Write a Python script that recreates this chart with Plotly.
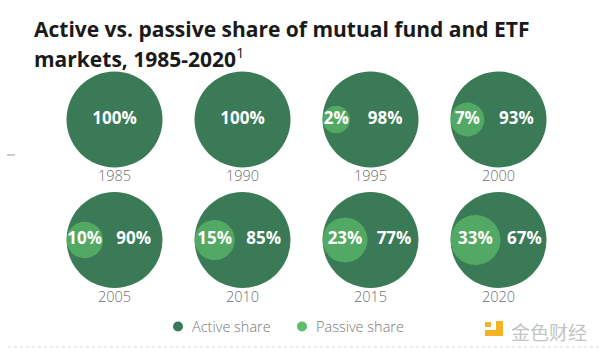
import plotly.graph_objects as go
import numpy as np

# ---- data ----
years = ["1985", "1990", "1995", "2000", "2005", "2010", "2015", "2020"]
active = [100, 100, 98, 93, 90, 85, 77, 67]
passive = [0, 0, 2, 7, 10, 15, 23, 33]
legend_labels = ["Active share", "Passive share"]
title_line1 = "Active vs. passive share of mutual fund and ETF"
title_line2 = "markets, 1985-2020"
title_note = "1"
watermark = "金色财经"

# ---- style ----
DARK = "#3a7a56"
LIGHT = "#5cbd6a"
W, H = 600, 354
COL_X0, COL_DX = 114.5, 128
ROW_Y = [119.5, 240]
R = 48
FONT = "Open Sans"

n = len(years)
cx = [COL_X0 + COL_DX * (i % 4) for i in range(n)]
cy = [ROW_Y[i // 4] for i in range(n)]
r_in = [10 + 2.61 * np.sqrt(p) if p > 0 else 0 for p in passive]
ix = [x - R + r for x, r in zip(cx, r_in)]

fig = go.Figure()

# outer (active) circles
fig.add_trace(go.Scatter(
    x=cx, y=cy, mode="markers",
    marker=dict(size=2 * R, color=DARK, line=dict(width=0)),
    hoverinfo="skip", showlegend=False, cliponaxis=False))

# inner (passive) circles
pi = [i for i in range(n) if passive[i] > 0]
fig.add_trace(go.Scatter(
    x=[ix[i] for i in pi], y=[cy[i] for i in pi], mode="markers",
    marker=dict(size=[2 * r_in[i] for i in pi], color=LIGHT, line=dict(width=0)),
    hoverinfo="skip", showlegend=False, cliponaxis=False))

# active labels: centred in the space right of the passive circle
ax = [cx[i] if passive[i] == 0 else (ix[i] + r_in[i] + cx[i] + R) / 2 + 1 for i in range(n)]
fig.add_trace(go.Scatter(
    x=ax, y=cy, mode="text", text=[f"{a}%" for a in active],
    textposition="middle center",
    textfont=dict(family=FONT, size=17, color="white", weight="bold"),
    hoverinfo="skip", showlegend=False, cliponaxis=False))

# passive labels
fig.add_trace(go.Scatter(
    x=[ix[i] for i in pi], y=[cy[i] for i in pi], mode="text",
    text=[f"{passive[i]}%" for i in pi], textposition="middle center",
    textfont=dict(family=FONT, size=17, color="white", weight="bold"),
    hoverinfo="skip", showlegend=False, cliponaxis=False))

# year labels
fig.add_trace(go.Scatter(
    x=cx, y=[y + 58 for y in cy], mode="text", text=years,
    textposition="middle center",
    textfont=dict(family=FONT, size=14.5, color="#6f6f6f", weight=300),
    hoverinfo="skip", showlegend=False, cliponaxis=False))

# legend (manual)
leg_x = [178, 302]
leg_y = 326.5
fig.add_trace(go.Scatter(
    x=leg_x, y=[leg_y, leg_y], mode="markers",
    marker=dict(size=10, color=[DARK, LIGHT], line=dict(width=0)),
    hoverinfo="skip", showlegend=False, cliponaxis=False))
for lx, lab in zip(leg_x, legend_labels):
    fig.add_annotation(x=lx + 12, y=leg_y, xref="x", yref="y", text=lab,
                       showarrow=False, xanchor="left", yanchor="middle",
                       font=dict(family=FONT, size=14.5, color="#777777", weight=300))

# title
fig.add_annotation(x=32, y=28.5, xref="x", yref="y", text=f"<b>{title_line1}</b>",
                   showarrow=False, xanchor="left", yanchor="middle",
                   font=dict(family=FONT, size=21, color="#1a1a1a"))
fig.add_annotation(x=32, y=57, xref="x", yref="y",
                   text=f"<b>{title_line2}</b><sup>{title_note}</sup>",
                   showarrow=False, xanchor="left", yanchor="middle",
                   font=dict(family=FONT, size=21, color="#1a1a1a"))

# watermark
fig.add_annotation(x=509, y=331, xref="x", yref="y", text=watermark,
                   showarrow=False, xanchor="left", yanchor="middle",
                   font=dict(family="Noto Sans CJK SC", size=19, color="#c4c4c4"))
fig.add_shape(type="rect", x0=496, x1=503, y0=321, y1=336, xref="x", yref="y",
              fillcolor="#f5b324", line=dict(width=0))
fig.add_shape(type="rect", x0=485, x1=503, y0=330, y1=336, xref="x", yref="y",
              fillcolor="#f5b324", line=dict(width=0))
fig.add_shape(type="rect", x0=485, x1=491, y0=322, y1=327, xref="x", yref="y",
              fillcolor="#f5b324", line=dict(width=0))

# dotted bottom line and small dash
fig.add_shape(type="line", x0=8, x1=600, y0=347, y1=347, xref="x", yref="y",
              line=dict(color="#d8d8d8", width=1, dash="dot"))
fig.add_shape(type="line", x0=7, x1=15, y0=155, y1=155, xref="x", yref="y",
              line=dict(color="#999999", width=1))

fig.update_layout(
    width=W, height=H, margin=dict(l=0, r=0, t=0, b=0),
    paper_bgcolor="white", plot_bgcolor="white",
    xaxis=dict(range=[0, W], visible=False, fixedrange=True),
    yaxis=dict(range=[H, 0], visible=False, fixedrange=True),
)

fig.write_html("out.html")
